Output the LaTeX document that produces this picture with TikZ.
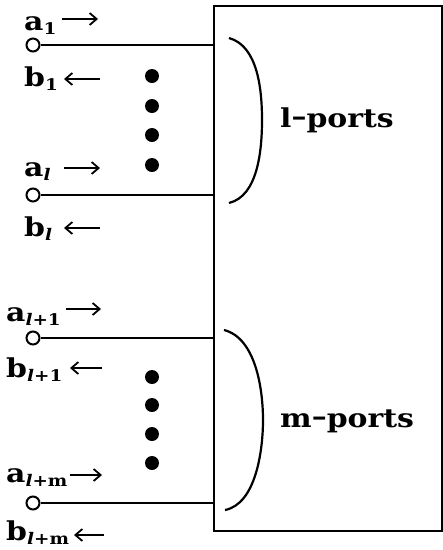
\documentclass[tikz,border=0pt]{standalone}
\usepackage{fontspec}
\setmainfont[FakeStretch=1.15]{DejaVu Serif}
\usetikzlibrary{arrows.meta}
\newcommand{\sub}[1]{\raisebox{-0.3ex}{\fontsize{16}{16}\selectfont #1}}
\begin{document}
\begin{tikzpicture}[x=1pt,y=-1pt,
  wire/.style={line width=2pt},
  port/.style={circle,draw,line width=2pt,minimum size=13pt,inner sep=0pt,fill=white},
  lbl/.style={anchor=base west,inner sep=0pt,font=\fontsize{26}{26}\selectfont\bfseries},
  flow/.style={line width=1.8pt,-{Straight Barb[length=7pt,width=12pt,line width=1.8pt]}},
  dot/.style={circle,fill=black,minimum size=14pt,inner sep=0pt},
  brace/.style={line width=2.2pt},
  tag/.style={anchor=base west,inner sep=0pt,font=\fontsize{26}{26}\selectfont\bfseries}]
\useasboundingbox (0,0) rectangle (443,550);

% the network box
\draw[line width=2pt] (214,6) rectangle (442,531);
\coordinate (e1) at (214,45);
\coordinate (e2) at (214,195);
\coordinate (e3) at (214,338);
\coordinate (e4) at (214,503);

% terminals and their wires
\node[port] (p1) at (33,45) {};
\node[port] (p2) at (33,195) {};
\node[port] (p3) at (33,338) {};
\node[port] (p4) at (33,503) {};
\draw[wire] (p1) -- (e1);
\draw[wire] (p2) -- (e2);
\draw[wire] (p3) -- (e3);
\draw[wire] (p4) -- (e4);

% incident and reflected wave labels
\node[lbl] (a1) at (24,30) {a\sub{1}};
\node[lbl] (b1) at (24,86) {b\sub{1}};
\node[lbl] (al) at (24,176) {a\sub{\itshape l}};
\node[lbl] (bl) at (24,236) {b\sub{\itshape l}};
\node[lbl] (al1) at (6,321) {a\sub{{\itshape l}+1}};
\node[lbl] (bl1) at (6,377) {b\sub{{\itshape l}+1}};
\node[lbl] (alm) at (6,482) {a\sub{{\itshape l}+m}};
\node[lbl] (blm) at (6,540) {b\sub{{\itshape l}+m}};

\draw[flow] (62,19) -- (98,19);
\draw[flow] (100,79) -- (64,79);
\draw[flow] (64,168) -- (100,168);
\draw[flow] (100,228) -- (64,228);
\draw[flow] (66,309) -- (101,309);
\draw[flow] (102,368) -- (70,368);
\draw[flow] (70,475) -- (102,475);
\draw[flow] (104,535) -- (74,535);

% ellipsis dots
\foreach \y [count=\i] in {76,106,135,165} \node[dot] (d\i) at (152,\y) {};
\foreach \y [count=\i] in {377,405,434,463} \node[dot] (m\i) at (152,\y) {};

% grouping braces
\draw[brace] (229,38) .. controls (258,46) and (262,90) .. (262,120)
  .. controls (262,150) and (258,196) .. (229,203);
\draw[brace] (224,330) .. controls (256,338) and (263,390) .. (263,420)
  .. controls (263,450) and (256,504) .. (225,510);
\node[tag] (lp) at (280,127) {l\raisebox{0.1ex}{--}ports};
\node[tag] (mp) at (280,427) {m\raisebox{0.1ex}{--}ports};
\end{tikzpicture}
\end{document}
